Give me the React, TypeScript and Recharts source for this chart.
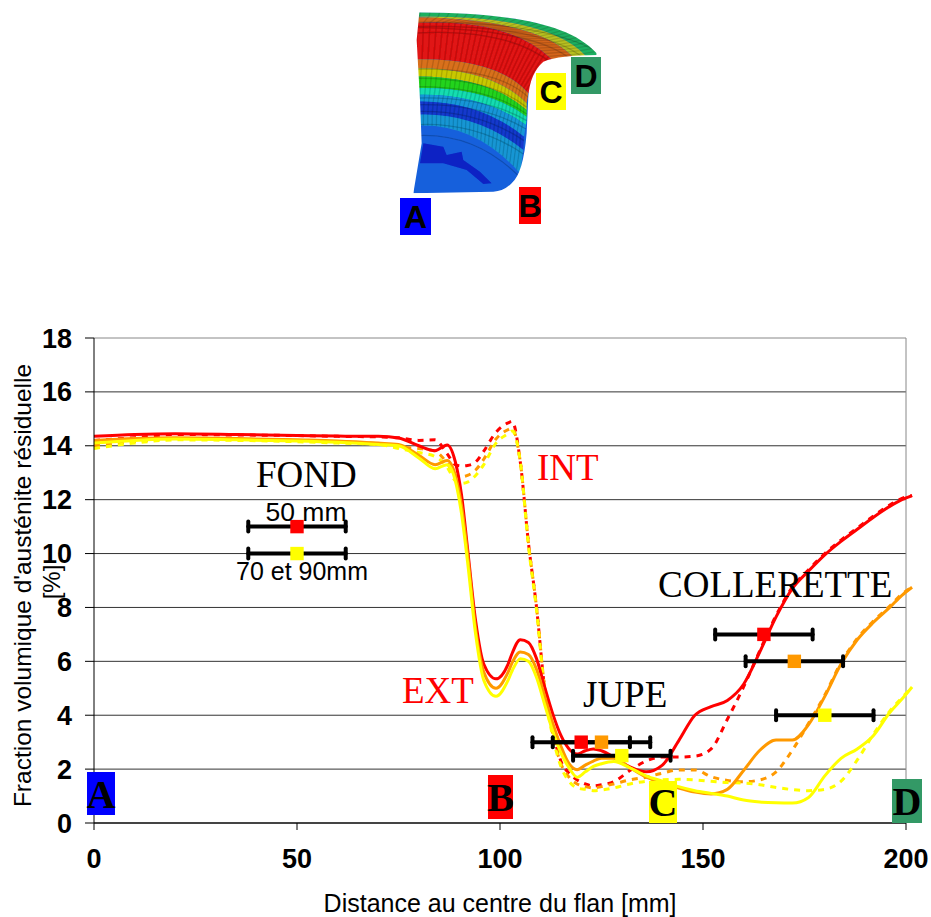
import React from 'react';
import {
  ComposedChart,
  Line,
  Scatter,
  XAxis,
  YAxis,
  ZAxis,
  ErrorBar,
  ReferenceLine,
} from 'recharts';

const distance = [0, 10, 20, 35, 50, 60, 70, 75, 80, 84, 87, 89, 90.5, 92, 94, 96, 99, 102, 103, 105, 107, 109, 111, 113, 115, 117, 119, 121, 123, 125, 128, 132, 136, 140, 144, 148, 152, 156, 160, 164, 168, 172, 176, 180, 184, 188, 192, 196, 199, 201.5];

const ext50 = [14.35, 14.42, 14.45, 14.42, 14.38, 14.36, 14.35, 14.29, 14.0, 13.82, 14.03, 13.4, 12.2, 10.2, 7.5, 5.9, 5.35, 5.9, 6.3, 6.8, 6.7, 6.1, 5.05, 4.05, 3.25, 2.75, 2.56, 2.68, 2.75, 2.68, 2.45, 2.08, 1.9, 2.15, 3.05, 4.0, 4.32, 4.55, 5.15, 6.35, 7.65, 8.7, 9.35, 9.95, 10.45, 10.9, 11.35, 11.75, 12.0, 12.15];
const ext70 = [14.2, 14.27, 14.3, 14.27, 14.22, 14.18, 14.1, 14.05, 13.65, 13.3, 13.45, 12.9, 11.8, 10.0, 7.2, 5.6, 5.0, 5.6, 5.95, 6.35, 6.25, 5.7, 4.7, 3.7, 2.85, 2.2, 1.98, 2.15, 2.3, 2.4, 2.4, 2.05, 1.7, 1.5, 1.3, 1.15, 1.08, 1.25, 1.95, 2.7, 3.08, 3.08, 3.65, 4.7, 5.9, 6.8, 7.45, 8.0, 8.45, 8.75];
const ext90 = [14.1, 14.2, 14.25, 14.22, 14.18, 14.13, 14.05, 14.0, 13.55, 13.15, 13.3, 12.7, 11.5, 9.7, 7.0, 5.3, 4.7, 5.3, 5.65, 6.1, 6.0, 5.4, 4.4, 3.4, 2.6, 2.05, 1.7, 1.9, 2.1, 2.2, 2.28, 2.05, 1.75, 1.55, 1.35, 1.2, 1.1, 1.0, 0.85, 0.78, 0.75, 0.74, 0.95, 1.75, 2.4, 2.75, 3.25, 4.1, 4.6, 5.05];
const int50 = [14.2, 14.3, 14.42, 14.4, 14.38, 14.35, 14.33, 14.3, 14.2, 14.22, 13.7, 13.3, 13.25, 13.27, 13.4, 13.8, 14.5, 14.85, 14.9, 13.4, 10.4, 8.0, 5.0, 3.4, 2.3, 1.85, 1.6, 1.45, 1.38, 1.42, 1.53, 1.95, 2.3, 2.45, 2.45, 2.48, 2.75, 3.85, 5.05, 6.4, 7.7, 8.75, 9.4, 10.0, 10.5, 10.95, 11.4, 11.8, 12.05, 12.15];
const int70 = [14.0, 14.15, 14.27, 14.25, 14.2, 14.15, 14.08, 13.95, 13.9, 13.8, 13.35, 12.9, 12.85, 12.9, 13.1, 13.5, 14.25, 14.6, 14.65, 13.4, 10.4, 8.0, 5.0, 3.3, 2.2, 1.7, 1.45, 1.35, 1.3, 1.35, 1.45, 1.6, 1.7, 1.85, 1.97, 1.97, 1.72, 1.58, 1.53, 1.6, 1.9, 2.7, 3.7, 4.75, 5.95, 6.85, 7.5, 8.05, 8.5, 8.75];
const int90 = [13.9, 14.1, 14.22, 14.2, 14.15, 14.1, 14.05, 13.9, 13.75, 13.6, 13.2, 12.7, 12.6, 12.65, 12.9, 13.3, 14.1, 14.45, 14.55, 13.4, 10.3, 7.9, 4.9, 3.2, 2.1, 1.55, 1.3, 1.25, 1.2, 1.22, 1.3, 1.45, 1.55, 1.6, 1.62, 1.6, 1.55, 1.5, 1.48, 1.42, 1.32, 1.24, 1.2, 1.25, 1.55, 2.34, 3.3, 4.15, 4.65, 5.05];

const chartData = distance.map((d, i) => ({
  distance: d,
  ext50: ext50[i],
  ext70: ext70[i],
  ext90: ext90[i],
  int50: int50[i],
  int70: int70[i],
  int90: int90[i],
}));

const RED = '#ff0000';
const ORANGE = '#ff9900';
const YELLOW = '#ffff00';

const solidSeries = [['ext50', RED], ['ext70', ORANGE], ['ext90', YELLOW]];
const dashedSeries = [['int50', RED], ['int70', ORANGE], ['int90', YELLOW]];

// depth markers: position, austenite fraction, half width of the bar
const redMarks = [
  { distance: 50, value: 11, err: 12 },
  { distance: 120, value: 3, err: 12 },
  { distance: 165, value: 7, err: 12 },
];
const orangeMarks = [
  { distance: 125, value: 3, err: 12 },
  { distance: 172.5, value: 6, err: 12 },
];
const yellowMarks = [
  { distance: 50, value: 10, err: 12 },
  { distance: 130, value: 2.5, err: 12 },
  { distance: 180, value: 4, err: 12 },
];
const markGroups = [[redMarks, RED], [orangeMarks, ORANGE], [yellowMarks, YELLOW]] as const;

const yTicks = [0, 2, 4, 6, 8, 10, 12, 14, 16, 18];
const xTicks = [0, 50, 100, 150, 200];

// illustration of the part, in 3x coordinates: left end, control point, right end of each band edge
const bandEdges = [
  [90, 37, 520, 30, 680, 160],
  [90, 50, 500, 40, 620, 170],
  [90, 52, 470, 55, 580, 172],
  [90, 70, 380, 50, 515, 178],
  [90, 178, 350, 170, 445, 280],
  [90, 205, 330, 200, 440, 310],
  [90, 230, 320, 225, 440, 330],
  [90, 265, 310, 255, 440, 350],
  [90, 285, 300, 275, 438, 375],
  [90, 305, 290, 295, 432, 410],
  [90, 345, 280, 330, 430, 450],
  [90, 378, 280, 360, 420, 520],
];
const bandColors = ['#1fb060', '#b8c020', '#d4641a', '#e01212', '#d8701a', '#c8c800', '#22d41c', '#12dcb0', '#1496d8', '#1238cc', '#1496d4'];
const outline = 'M118,37 C350,40 560,60 650,160 L650,165 Q540,165 490,185 Q450,220 445,290 L440,400 Q430,520 395,550 Q370,575 340,575 L100,580 L125,430 L120,300 L110,120 Z';
const patches = [
  'M130,430 L190,440 L200,465 L245,455 L250,480 L300,515 L335,550 L310,552 L260,510 L190,490 L120,490 Z',
];

const quad = (e: number[], t: number) => [
  (1 - t) * (1 - t) * e[0] + 2 * t * (1 - t) * e[2] + t * t * e[4],
  (1 - t) * (1 - t) * e[1] + 2 * t * (1 - t) * e[3] + t * t * e[5],
];

const PartDrawing = () => {
  const columns = Array.from({ length: 27 }, (_, i) => (i + 1) / 28);
  return (
    <g transform="translate(380,0) scale(0.3333)">
      <defs>
        <clipPath id="part-outline"><path d={outline} /></clipPath>
        <filter id="soft"><feGaussianBlur stdDeviation="1.6" /></filter>
      </defs>
      <g clipPath="url(#part-outline)" filter="url(#soft)">
        <rect x={80} y={20} width={600} height={580} fill="#1560dc" />
        {bandColors.map((color, i) => {
          const a = bandEdges[i];
          const b = bandEdges[i + 1];
          return (
            <path
              key={color + i}
              fill={color}
              d={`M${a[0]},${a[1]} Q${a[2]},${a[3]} ${a[4]},${a[5]} L${b[4]},${b[5]} Q${b[2]},${b[3]} ${b[0]},${b[1]} Z`}
            />
          );
        })}
        {patches.map((d) => <path key={d} d={d} fill="#0c22c4" />)}
        {bandEdges.map((e, i) => (
          <path key={i} d={`M${e[0]},${e[1] + 30} Q${e[2]},${e[3] + 30} ${e[4]},${e[5] + 12}`} fill="none" stroke="#000" strokeOpacity={0.18} strokeWidth={4} />
        ))}
        {columns.map((t) => (
          <polyline
            key={t}
            fill="none"
            stroke="#000"
            strokeOpacity={0.14}
            strokeWidth={4}
            points={bandEdges.map((e) => quad(e, t).join(',')).join(' ')}
          />
        ))}
      </g>
    </g>
  );
};

const Badge = ({ x, y, w, h, fill, letter, font, size }: any) => (
  <g>
    <rect x={x} y={y} width={w} height={h} fill={fill} />
    <text
      x={x + w / 2}
      y={y + h / 2 + size * 0.36}
      textAnchor="middle"
      fontFamily={font}
      fontWeight="bold"
      fontSize={size}
      fill="#000"
    >
      {letter}
    </text>
  </g>
);

const SANS = '"Liberation Sans", Arial, sans-serif';
const SERIF = '"Liberation Serif", "Times New Roman", serif';

const Annotations = () => (
  <svg width={931} height={917} style={{ position: 'absolute', left: 0, top: 0, pointerEvents: 'none' }}>
    <PartDrawing />
    <Badge x={400} y={198} w={31} h={37} fill="#0000ff" letter="A" font={SANS} size={32} />
    <Badge x={519} y={187} w={22} h={37} fill="#ff0000" letter="B" font={SANS} size={32} />
    <Badge x={536} y={73} w={30} h={37} fill="#ffff00" letter="C" font={SANS} size={32} />
    <Badge x={571} y={57} w={30} h={37} fill="#339966" letter="D" font={SANS} size={32} />

    <Badge x={87} y={772} w={28} h={43} fill="#0000ff" letter="A" font={SERIF} size={40} />
    <Badge x={488} y={775} w={25} h={44} fill="#ff0000" letter="B" font={SERIF} size={40} />
    <Badge x={649} y={781} w={28} h={42} fill="#ffff00" letter="C" font={SERIF} size={40} />
    <Badge x={892} y={779} w={30} h={44} fill="#339966" letter="D" font={SERIF} size={40} />

    <g fontFamily={SERIF} fontSize={37}>
      <text x={256} y={487} fill="#000">FOND</text>
      <text x={537} y={480} fill={RED}>INT</text>
      <text x={402} y={703} fill={RED}>EXT</text>
      <text x={583} y={707} fill="#000">JUPE</text>
      <text x={658} y={597} fill="#000">COLLERETTE</text>
    </g>
    <g fontFamily={SANS} fill="#000" textAnchor="middle">
      <text x={306} y={521} fontSize={26.5}>50 mm</text>
      <text x={302} y={580} fontSize={25}>70 et 90mm</text>
    </g>
    <text x={60} y={582} transform="rotate(-90 60 582)" textAnchor="middle" fontFamily={SANS} fontSize={24} fill="#000">[%]</text>
  </svg>
);

export default function App() {
  return (
    <div style={{ position: 'absolute', left: 0, top: 0, width: 931, height: 917, background: '#fff' }}>
      <ComposedChart
        width={931}
        height={917}
        data={chartData}
        margin={{ top: 338, right: 16.88, bottom: 34, left: 14 }}
      >
        <XAxis
          dataKey="distance"
          type="number"
          domain={[0, 202]}
          ticks={xTicks}
          axisLine={false}
          tickLine={{ stroke: '#000', strokeWidth: 1 }}
          tickSize={7}
          tickMargin={19}
          height={60}
          tick={{ fontFamily: SANS, fontWeight: 'bold', fontSize: 27, fill: '#000' }}
          label={{ value: 'Distance au centre du flan [mm]', position: 'insideBottom', offset: -29, dx: -4, style: { fontFamily: SANS, fontSize: 25, fill: '#000' } }}
        />
        <YAxis
          type="number"
          domain={[0, 18]}
          ticks={yTicks}
          width={80}
          axisLine={{ stroke: '#000', strokeWidth: 1 }}
          tickLine={{ stroke: '#000', strokeWidth: 1 }}
          tickSize={9}
          tickMargin={13}
          tick={{ fontFamily: SANS, fontWeight: 'bold', fontSize: 27, fill: '#000' }}
          label={{ value: "Fraction volumique d'austénite résiduelle", angle: -90, position: 'insideLeft', offset: 8, dy: 5, style: { textAnchor: 'middle', fontFamily: SANS, fontSize: 24.5, fill: '#000' } }}
        />
        <ZAxis range={[180, 180]} />
        {yTicks.map((tick) => (
          <ReferenceLine
            key={tick}
            segment={[{ x: 0, y: tick }, { x: 200, y: tick }]}
            stroke={tick === 0 ? '#444' : tick === 18 ? '#888' : '#333'}
            strokeWidth={tick === 0 ? 2 : 1}
          />
        ))}
        <ReferenceLine segment={[{ x: 200, y: 0 }, { x: 200, y: 18 }]} stroke="#888" strokeWidth={1} />
        {dashedSeries.map(([key, color]) => (
          <Line key={key} dataKey={key} type="monotone" stroke={color} strokeWidth={3} strokeDasharray="6 6" dot={false} isAnimationActive={false} />
        ))}
        {solidSeries.map(([key, color]) => (
          <Line key={key} dataKey={key} type="monotone" stroke={color} strokeWidth={3} dot={false} isAnimationActive={false} />
        ))}
        {markGroups.map(([marks, color]) => (
          <Scatter key={color} data={marks as any} dataKey="value" fill={color} shape="square" isAnimationActive={false}>
            <ErrorBar dataKey="err" direction="x" width={5} stroke="#000" strokeWidth={4} strokeLinecap="round" isAnimationActive={false} />
          </Scatter>
        ))}
      </ComposedChart>
      <Annotations />
    </div>
  );
}
